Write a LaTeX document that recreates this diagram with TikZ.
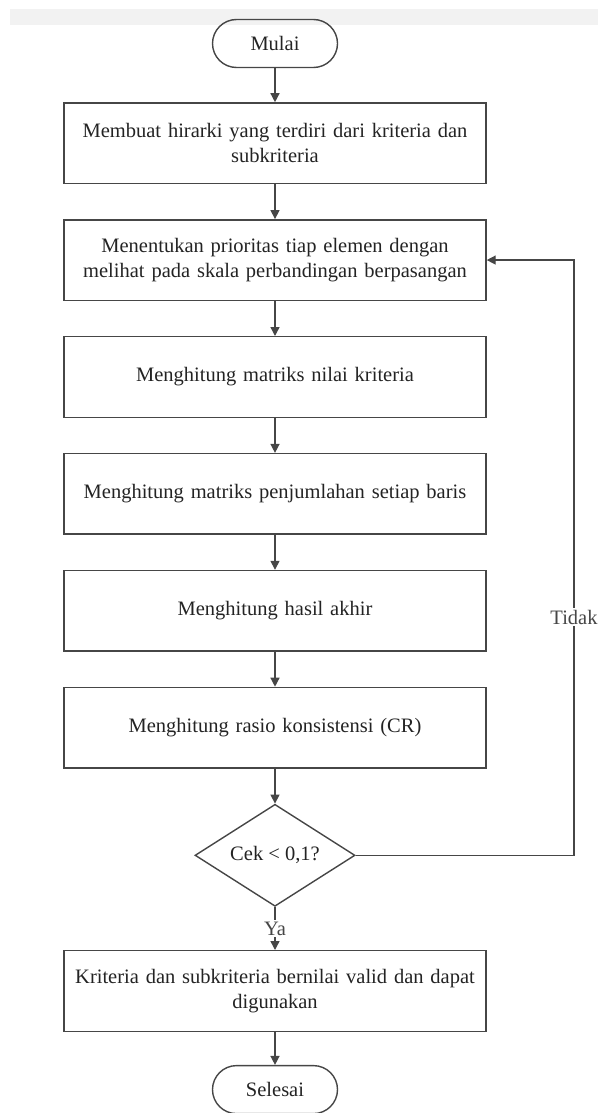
\documentclass[tikz,border=0pt]{standalone}
\usepackage{fontspec}
\setmainfont{Liberation Serif}
\usepackage{xcolor}
\definecolor{linegray}{RGB}{70, 70, 70}
\definecolor{textgray}{RGB}{35, 35, 35}
\definecolor{bandgray}{RGB}{242, 242, 242}
\usepackage{tikz}
\usetikzlibrary{
  shapes.geometric,
  arrows.meta, positioning
}

\begin{document}
\begin{tikzpicture}[x=1pt, y=1pt, node distance=35pt,
  font=\fontsize{20.5}{25}\selectfont, text=textgray,
  termbox/.style={draw=linegray, line width=1.4pt,
    rounded corners=24pt, minimum width=125pt, minimum height=48pt,
    align=center},
  procbox/.style={draw=linegray, line width=1.4pt,
    minimum width=422pt, minimum height=80.5pt, text width=410pt,
    align=center},
  decbox/.style={draw=linegray, line width=1.4pt, diamond,
    aspect=1.57, minimum width=160pt, minimum height=102pt,
    inner sep=0pt, align=center},
  lbl/.style={fill=white, inner sep=1.5pt},
  arr/.style={-{Triangle[length=9pt, width=9pt]}, line width=1.4pt, color=linegray}]

  \useasboundingbox (0,0) rectangle (598,-1113);
  \fill[bandgray] (10,-9) rectangle (598,-25);

  \node[termbox] (mulai) at (275,-43.5) {Mulai};
  \node[procbox, below=34pt of mulai] (hirarki) {Membuat hirarki yang terdiri dari kriteria dan\\ subkriteria};
  \node[procbox, below=of hirarki] (prioritas) {Menentukan prioritas tiap elemen dengan\\ melihat pada skala perbandingan berpasangan};
  \node[procbox, below=of prioritas] (matriks) {Menghitung matriks nilai kriteria};
  \node[procbox, below=of matriks] (jumlah) {Menghitung matriks penjumlahan setiap baris};
  \node[procbox, below=of jumlah] (hasil) {Menghitung hasil akhir};
  \node[procbox, below=of hasil] (rasio) {Menghitung rasio konsistensi (CR)};
  \node[decbox, below=35pt of rasio] (cek) {Cek < 0,1?};
  \node[procbox, below=43pt of cek] (valid) {Kriteria dan subkriteria bernilai valid dan dapat\\ digunakan};
  \node[termbox, below=33pt of valid] (selesai) {Selesai};

  \coordinate (balik) at (574,0);

  \draw[arr] (mulai) -- (hirarki);
  \draw[arr] (hirarki) -- (prioritas);
  \draw[arr] (prioritas) -- (matriks);
  \draw[arr] (matriks) -- (jumlah);
  \draw[arr] (jumlah) -- (hasil);
  \draw[arr] (hasil) -- (rasio);
  \draw[arr] (rasio) -- (cek);
  \draw[arr] (cek) -- node[lbl] {Ya} (valid);
  \draw[arr] (valid) -- (selesai);
  \draw[arr] (cek.east) -- (cek.east -| balik) |- node[lbl, pos=0.2] {Tidak} (prioritas.east);

\end{tikzpicture}
\end{document}
